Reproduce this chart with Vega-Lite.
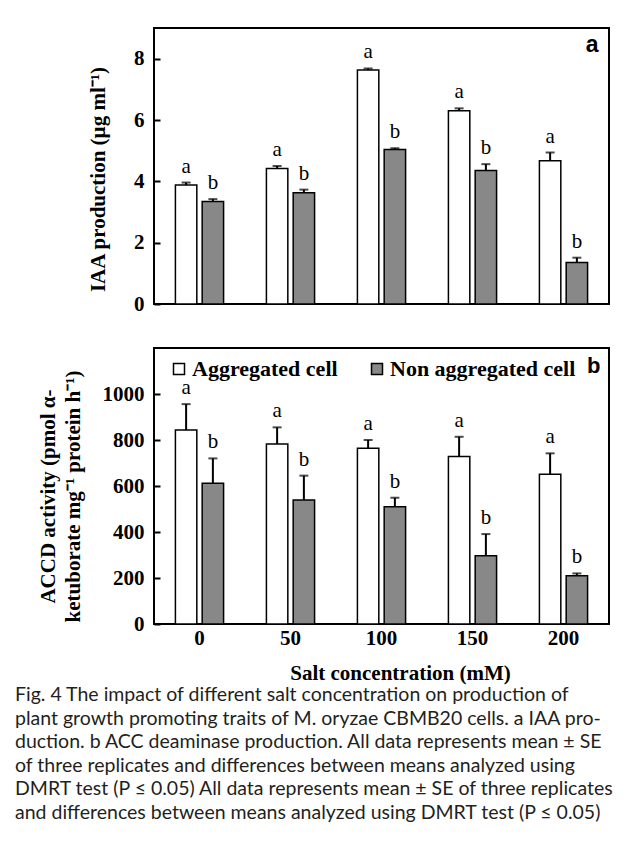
{
  "$schema": "https://vega.github.io/schema/vega-lite/v6.json",
  "padding": {"left": 15, "top": 27, "right": 5, "bottom": 5},
  "background": "white",
  "datasets": {
    "iaa": [
      {"salt": 0, "cell": "Aggregated cell", "mean": 3.88, "hi": 3.96, "sig": "a"},
      {"salt": 0, "cell": "Non aggregated cell", "mean": 3.34, "hi": 3.42, "sig": "b"},
      {"salt": 50, "cell": "Aggregated cell", "mean": 4.42, "hi": 4.5, "sig": "a"},
      {"salt": 50, "cell": "Non aggregated cell", "mean": 3.63, "hi": 3.73, "sig": "b"},
      {"salt": 100, "cell": "Aggregated cell", "mean": 7.63, "hi": 7.68, "sig": "a"},
      {"salt": 100, "cell": "Non aggregated cell", "mean": 5.04, "hi": 5.08, "sig": "b"},
      {"salt": 150, "cell": "Aggregated cell", "mean": 6.3, "hi": 6.38, "sig": "a"},
      {"salt": 150, "cell": "Non aggregated cell", "mean": 4.35, "hi": 4.56, "sig": "b"},
      {"salt": 200, "cell": "Aggregated cell", "mean": 4.67, "hi": 4.94, "sig": "a"},
      {"salt": 200, "cell": "Non aggregated cell", "mean": 1.35, "hi": 1.51, "sig": "b"}
    ],
    "accd": [
      {"salt": 0, "cell": "Aggregated cell", "mean": 843, "hi": 956, "sig": "a"},
      {"salt": 0, "cell": "Non aggregated cell", "mean": 612, "hi": 720, "sig": "b"},
      {"salt": 50, "cell": "Aggregated cell", "mean": 783, "hi": 855, "sig": "a"},
      {"salt": 50, "cell": "Non aggregated cell", "mean": 539, "hi": 645, "sig": "b"},
      {"salt": 100, "cell": "Aggregated cell", "mean": 764, "hi": 800, "sig": "a"},
      {"salt": 100, "cell": "Non aggregated cell", "mean": 510, "hi": 549, "sig": "b"},
      {"salt": 150, "cell": "Aggregated cell", "mean": 728, "hi": 814, "sig": "a"},
      {"salt": 150, "cell": "Non aggregated cell", "mean": 297, "hi": 391, "sig": "b"},
      {"salt": 200, "cell": "Aggregated cell", "mean": 651, "hi": 742, "sig": "a"},
      {"salt": 200, "cell": "Non aggregated cell", "mean": 210, "hi": 220, "sig": "b"}
    ]
  },
  "config": {
    "font": "Liberation Serif",
    "view": {"stroke": "black", "strokeWidth": 2},
    "axis": {
      "labelFont": "Liberation Serif", "labelFontWeight": "bold", "labelFontSize": 21, "labelColor": "black",
      "titleFont": "Liberation Serif", "titleFontWeight": "bold", "titleFontSize": 21, "titleColor": "black",
      "domain": false, "grid": false, "tickColor": "black", "tickWidth": 2
    }
  },
  "title": {
    "text": [
      "Fig. 4  The impact of different salt concentration on production of",
      "plant growth promoting traits of M. oryzae CBMB20 cells. a IAA pro-",
      "duction. b ACC deaminase production. All data represents mean ± SE",
      "of three replicates and differences between means analyzed using",
      "DMRT test (P ≤ 0.05) All data represents mean ± SE of three replicates",
      "and differences between means analyzed using DMRT test (P ≤ 0.05)"
    ],
    "orient": "bottom", "anchor": "start", "frame": "bounds",
    "font": "Lato", "fontSize": 19.5, "fontWeight": "normal", "color": "#231f20",
    "lineHeight": 23.6, "offset": 2, "dx": -21
  },
  "spacing": 44,
  "bounds": "flush",
  "resolve": {"legend": {"fill": "independent"}},
  "vconcat": [
    {
      "width": 455, "height": 276,
      "layer": [
        {
          "data": {"name": "iaa"},
          "mark": {"type": "bar", "stroke": "black", "strokeWidth": 1.5},
          "encoding": {
            "x": {"field": "salt", "type": "ordinal", "scale": {"paddingInner": 0, "paddingOuter": 0}, "axis": null},
            "xOffset": {"field": "cell", "type": "nominal", "scale": {"paddingInner": 0.2, "paddingOuter": 0.8}},
            "y": {"field": "mean", "type": "quantitative", "scale": {"domain": [0, 9]},
                  "axis": {"values": [0, 2, 4, 6, 8], "title": "IAA production (µg ml⁻¹)", "tickSize": -6, "labelPadding": 16, "titlePadding": 25, "titleY": 151}},
            "fill": {"field": "cell", "type": "nominal", "scale": {"range": ["white", "#888888"]}, "legend": null}
          }
        },
        {
          "data": {"name": "iaa"},
          "mark": {"type": "rule", "strokeWidth": 2, "color": "black"},
          "encoding": {
            "x": {"field": "salt", "type": "ordinal"},
            "xOffset": {"field": "cell", "type": "nominal"},
            "y": {"field": "mean", "type": "quantitative"}, "y2": {"field": "hi"}
          }
        },
        {
          "data": {"name": "iaa"},
          "mark": {"type": "tick", "size": 9, "thickness": 2, "color": "black"},
          "encoding": {
            "x": {"field": "salt", "type": "ordinal"},
            "xOffset": {"field": "cell", "type": "nominal"},
            "y": {"field": "hi", "type": "quantitative"}
          }
        },
        {
          "data": {"name": "iaa"},
          "mark": {"type": "text", "font": "Liberation Serif", "fontSize": 21, "baseline": "alphabetic", "dy": -10, "color": "black"},
          "encoding": {
            "x": {"field": "salt", "type": "ordinal"},
            "xOffset": {"field": "cell", "type": "nominal"},
            "y": {"field": "hi", "type": "quantitative"}, "text": {"field": "sig"}
          }
        },
        {
          "data": {"values": [{"panel": "a"}]},
          "mark": {"type": "text", "font": "Liberation Sans", "fontWeight": "bold", "fontSize": 23, "align": "right", "baseline": "alphabetic", "dx": 35, "dy": 24, "color": "black"},
          "encoding": {
            "x": {"datum": 200, "type": "ordinal"},
            "y": {"datum": 9, "type": "quantitative"},
            "text": {"field": "panel"}
          }
        }
      ]
    },
    {
      "width": 455, "height": 276,
      "layer": [
        {
          "data": {"name": "accd"},
          "mark": {"type": "bar", "stroke": "black", "strokeWidth": 1.5},
          "encoding": {
            "x": {"field": "salt", "type": "ordinal", "scale": {"paddingInner": 0, "paddingOuter": 0},
                  "axis": {"title": "Salt concentration (mM)", "labelAngle": 0, "ticks": false, "labelPadding": 3, "titlePadding": 14, "titleX": 246}},
            "xOffset": {"field": "cell", "type": "nominal", "scale": {"paddingInner": 0.2, "paddingOuter": 0.8}},
            "y": {"field": "mean", "type": "quantitative", "scale": {"domain": [0, 1200]},
                  "axis": {"values": [0, 200, 400, 600, 800, 1000], "format": "d", "title": ["ACCD activity (pmol α-", "ketuborate mg⁻¹ protein h⁻¹)"], "titleLineHeight": 25, "tickSize": -6, "labelPadding": 16, "titlePadding": 19, "titleY": 148}},
            "fill": {"field": "cell", "type": "nominal", "scale": {"range": ["white", "#888888"]},
                     "legend": {"orient": "none", "legendX": 14, "legendY": 10, "direction": "horizontal", "title": null, "symbolType": "square", "symbolSize": 121, "symbolStrokeColor": "black", "symbolStrokeWidth": 1.5, "labelFont": "Liberation Serif", "labelFontWeight": "bold", "labelFontSize": 22, "labelColor": "black", "labelOffset": 2, "labelLimit": 0, "columnPadding": 28, "padding": 0}}
          }
        },
        {
          "data": {"name": "accd"},
          "mark": {"type": "rule", "strokeWidth": 2, "color": "black"},
          "encoding": {
            "x": {"field": "salt", "type": "ordinal"},
            "xOffset": {"field": "cell", "type": "nominal"},
            "y": {"field": "mean", "type": "quantitative"}, "y2": {"field": "hi"}
          }
        },
        {
          "data": {"name": "accd"},
          "mark": {"type": "tick", "size": 9, "thickness": 2, "color": "black"},
          "encoding": {
            "x": {"field": "salt", "type": "ordinal"},
            "xOffset": {"field": "cell", "type": "nominal"},
            "y": {"field": "hi", "type": "quantitative"}
          }
        },
        {
          "data": {"name": "accd"},
          "mark": {"type": "text", "font": "Liberation Serif", "fontSize": 21, "baseline": "alphabetic", "dy": -10, "color": "black"},
          "encoding": {
            "x": {"field": "salt", "type": "ordinal"},
            "xOffset": {"field": "cell", "type": "nominal"},
            "y": {"field": "hi", "type": "quantitative"}, "text": {"field": "sig"}
          }
        },
        {
          "data": {"values": [{"panel": "b"}]},
          "mark": {"type": "text", "font": "Liberation Sans", "fontWeight": "bold", "fontSize": 22, "align": "right", "baseline": "alphabetic", "dx": 37, "dy": 25, "color": "black"},
          "encoding": {
            "x": {"datum": 200, "type": "ordinal"},
            "y": {"datum": 1200, "type": "quantitative"},
            "text": {"field": "panel"}
          }
        }
      ]
    }
  ]
}
